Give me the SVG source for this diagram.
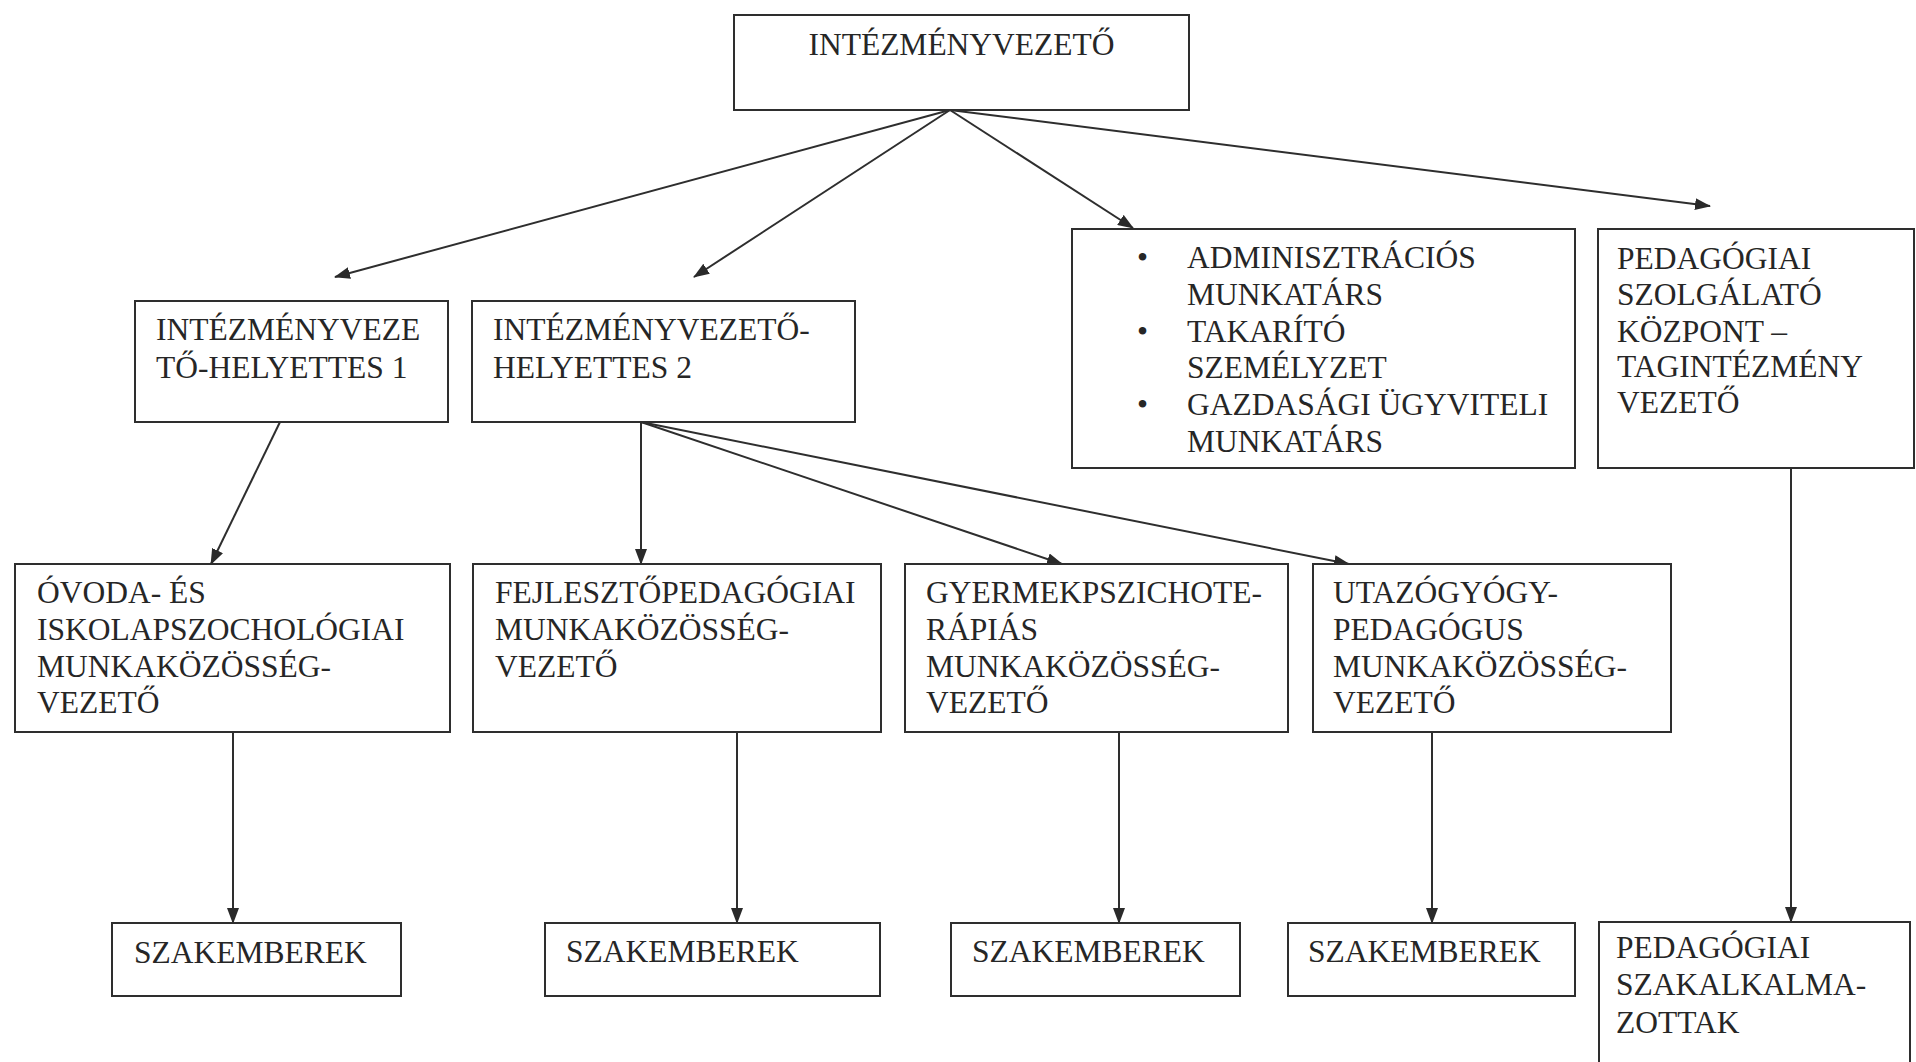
<svg xmlns="http://www.w3.org/2000/svg" width="1916" height="1062" viewBox="0 0 1916 1062">
<style>
.box{fill:#fff;stroke:#2e2e2e;stroke-width:2}
.t{font-family:"Liberation Serif","Times New Roman",serif;font-size:31.5px;fill:#262626}
.c{fill:none;stroke:#2e2e2e;stroke-width:2}
</style>
<defs>
<marker id="ah" markerUnits="userSpaceOnUse" markerWidth="16" markerHeight="12" refX="15" refY="6" orient="auto">
<path d="M0,0 L16,6 L0,12 Z" fill="#2a2a2a"/>
</marker>
</defs>
<rect width="1916" height="1062" fill="#fff"/>
<g id="connectors">
<line class="c" x1="950" y1="110" x2="335" y2="277" marker-end="url(#ah)"/>
<line class="c" x1="950" y1="110" x2="694" y2="277" marker-end="url(#ah)"/>
<line class="c" x1="950" y1="110" x2="1133" y2="228" marker-end="url(#ah)"/>
<line class="c" x1="950" y1="110" x2="1710" y2="206" marker-end="url(#ah)"/>
<line class="c" x1="280" y1="422" x2="211" y2="564" marker-end="url(#ah)"/>
<line class="c" x1="641" y1="422" x2="641" y2="564" marker-end="url(#ah)"/>
<line class="c" x1="641" y1="422" x2="1062" y2="564" marker-end="url(#ah)"/>
<line class="c" x1="641" y1="422" x2="1349" y2="564" marker-end="url(#ah)"/>
<line class="c" x1="233" y1="732" x2="233" y2="923" marker-end="url(#ah)"/>
<line class="c" x1="737" y1="732" x2="737" y2="923" marker-end="url(#ah)"/>
<line class="c" x1="1119" y1="732" x2="1119" y2="923" marker-end="url(#ah)"/>
<line class="c" x1="1432" y1="732" x2="1432" y2="923" marker-end="url(#ah)"/>
<line class="c" x1="1791" y1="468" x2="1791" y2="922" marker-end="url(#ah)"/>
</g>
<g id="n-intezmenyvezeto">
<rect class="box" x="734" y="15" width="455" height="95"/>
<text class="t" x="961.5" y="55" text-anchor="middle">INTÉZMÉNYVEZETŐ</text>
</g>
<g id="n-helyettes1">
<rect class="box" x="135" y="301" width="313" height="121"/>
<text class="t" x="156" y="340">INTÉZMÉNYVEZE</text>
<text class="t" x="156" y="378">TŐ-HELYETTES 1</text>
</g>
<g id="n-helyettes2">
<rect class="box" x="472" y="301" width="383" height="121"/>
<text class="t" x="493" y="340">INTÉZMÉNYVEZETŐ-</text>
<text class="t" x="493" y="378">HELYETTES 2</text>
</g>
<g id="n-admin">
<rect class="box" x="1072" y="229" width="503" height="239"/>
<text class="t" x="1137" y="268">•</text>
<text class="t" x="1187" y="268">ADMINISZTRÁCIÓS</text>
<text class="t" x="1187" y="305">MUNKATÁRS</text>
<text class="t" x="1137" y="342">•</text>
<text class="t" x="1187" y="342">TAKARÍTÓ</text>
<text class="t" x="1187" y="378">SZEMÉLYZET</text>
<text class="t" x="1137" y="415">•</text>
<text class="t" x="1187" y="415">GAZDASÁGI ÜGYVITELI</text>
<text class="t" x="1187" y="452">MUNKATÁRS</text>
</g>
<g id="n-psz">
<rect class="box" x="1598" y="229" width="316" height="239"/>
<text class="t" x="1617" y="269">PEDAGÓGIAI</text>
<text class="t" x="1617" y="305">SZOLGÁLATÓ</text>
<text class="t" x="1617" y="342">KÖZPONT –</text>
<text class="t" x="1617" y="377">TAGINTÉZMÉNY</text>
<text class="t" x="1617" y="413">VEZETŐ</text>
</g>
<g id="n-ovoda">
<rect class="box" x="15" y="564" width="435" height="168"/>
<text class="t" x="37" y="603">ÓVODA- ÉS</text>
<text class="t" x="37" y="640">ISKOLAPSZOCHOLÓGIAI</text>
<text class="t" x="37" y="677">MUNKAKÖZÖSSÉG-</text>
<text class="t" x="37" y="713">VEZETŐ</text>
</g>
<g id="n-fejleszto">
<rect class="box" x="473" y="564" width="408" height="168"/>
<text class="t" x="495" y="603">FEJLESZTŐPEDAGÓGIAI</text>
<text class="t" x="495" y="640">MUNKAKÖZÖSSÉG-</text>
<text class="t" x="495" y="677">VEZETŐ</text>
</g>
<g id="n-gyermek">
<rect class="box" x="905" y="564" width="383" height="168"/>
<text class="t" x="926" y="603">GYERMEKPSZICHOTE-</text>
<text class="t" x="926" y="640">RÁPIÁS</text>
<text class="t" x="926" y="677">MUNKAKÖZÖSSÉG-</text>
<text class="t" x="926" y="713">VEZETŐ</text>
</g>
<g id="n-utazo">
<rect class="box" x="1313" y="564" width="358" height="168"/>
<text class="t" x="1333" y="603">UTAZÓGYÓGY-</text>
<text class="t" x="1333" y="640">PEDAGÓGUS</text>
<text class="t" x="1333" y="677">MUNKAKÖZÖSSÉG-</text>
<text class="t" x="1333" y="713">VEZETŐ</text>
</g>
<g id="n-szak1">
<rect class="box" x="112" y="923" width="289" height="73"/>
<text class="t" x="134" y="963">SZAKEMBEREK</text>
</g>
<g id="n-szak2">
<rect class="box" x="545" y="923" width="335" height="73"/>
<text class="t" x="566" y="962">SZAKEMBEREK</text>
</g>
<g id="n-szak3">
<rect class="box" x="951" y="923" width="289" height="73"/>
<text class="t" x="972" y="962">SZAKEMBEREK</text>
</g>
<g id="n-szak4">
<rect class="box" x="1288" y="923" width="287" height="73"/>
<text class="t" x="1308" y="962">SZAKEMBEREK</text>
</g>
<g id="n-szakalk">
<rect class="box" x="1599" y="922" width="311" height="150"/>
<text class="t" x="1616" y="958">PEDAGÓGIAI</text>
<text class="t" x="1616" y="995">SZAKALKALMA-</text>
<text class="t" x="1616" y="1033">ZOTTAK</text>
</g>
</svg>
